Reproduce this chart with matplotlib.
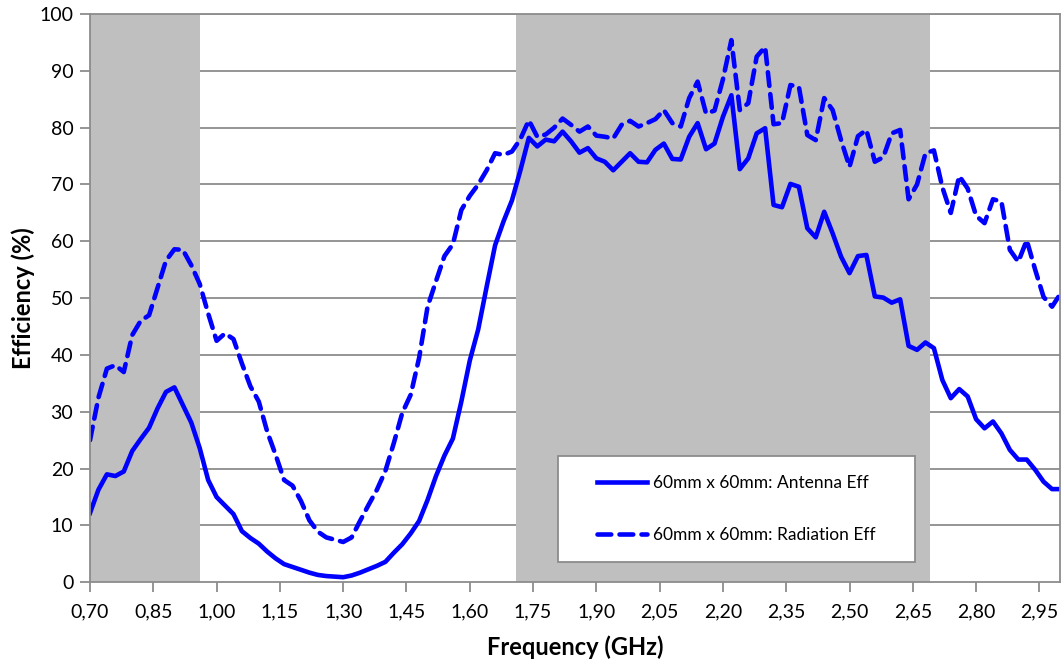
import numpy as np
import matplotlib
matplotlib.use("Agg")
import matplotlib.pyplot as plt
from matplotlib.patches import Rectangle
from matplotlib.ticker import FixedLocator, FuncFormatter

plt.rcParams['font.family'] = ['Lato', 'DejaVu Sans']

# Frequency sweep (GHz), 20 MHz steps
freq = np.round(np.arange(0.70, 3.0001, 0.02), 2)

antenna_eff = [
    12.2, 16.3, 19.0, 18.7, 19.5, 23.1, 25.2, 27.2, 30.6, 33.5,
    34.3, 31.2, 28.1, 23.6, 18.0, 15.0, 13.5, 12.0, 9.0, 7.8,
    6.8, 5.4, 4.2, 3.2, 2.7, 2.2, 1.7, 1.3, 1.1, 1.0,
    0.9, 1.2, 1.7, 2.3, 2.9, 3.6, 5.2, 6.7, 8.6, 10.8,
    14.5, 18.7, 22.3, 25.3, 31.8, 39.0, 44.5, 52.0, 59.3, 63.5,
    67.2, 72.5, 78.2, 76.7, 77.9, 77.6, 79.3, 77.6, 75.6, 76.4,
    74.6, 74.0, 72.5, 74.0, 75.5, 74.0, 73.9, 76.1, 77.2, 74.5,
    74.4, 78.4, 80.8, 76.2, 77.2, 81.9, 85.7, 72.7, 74.6, 79.0,
    79.9, 66.4, 66.0, 70.1, 69.6, 62.3, 60.7, 65.2, 61.4, 57.3,
    54.4, 57.4, 57.6, 50.3, 50.1, 49.2, 49.8, 41.6, 40.9, 42.2,
    41.2, 35.6, 32.4, 34.0, 32.7, 28.7, 27.1, 28.3, 26.2, 23.3,
    21.6, 21.6, 19.8, 17.7, 16.4, 16.4,
]

radiation_eff = [
    25.0, 32.5, 37.6, 38.2, 37.0, 43.5, 46.0, 47.0, 51.8, 56.6,
    58.6, 58.5, 55.8, 52.5, 47.3, 42.5, 43.8, 42.8, 38.5, 34.5,
    31.8, 26.5, 22.4, 18.0, 17.0, 14.3, 10.9, 8.9, 7.9, 7.5,
    7.1, 7.9, 10.8, 13.6, 16.3, 19.6, 24.5, 29.8, 33.0, 39.5,
    48.5, 53.0, 57.4, 59.5, 65.5, 68.0, 70.0, 72.5, 75.5, 75.2,
    75.8, 78.0, 81.3, 78.4, 78.8, 80.0, 81.6, 80.5, 79.3, 80.2,
    78.6, 78.4, 78.1, 80.5, 81.2, 80.2, 80.8, 81.5, 83.1, 80.8,
    80.2, 85.2, 88.1, 82.5, 83.0, 88.5, 95.4, 83.1, 84.3, 92.5,
    94.2, 80.6, 80.8, 87.5, 87.2, 78.7, 77.8, 85.2, 83.1, 77.8,
    73.1, 78.5, 79.6, 74.0, 74.8, 79.0, 79.6, 67.4, 70.0, 75.5,
    76.0, 69.5, 65.0, 71.5, 69.3, 64.5, 63.2, 67.4, 67.0, 58.5,
    56.4, 60.2, 55.0, 50.2, 48.5, 50.8,
]

# Shaded operating bands (GHz)
bands = [(0.698, 0.96), (1.71, 2.69)]

x_ticks = [0.70, 0.85, 1.00, 1.15, 1.30, 1.45, 1.60, 1.75, 1.90,
           2.05, 2.20, 2.35, 2.50, 2.65, 2.80, 2.95]
y_ticks = [0, 10, 20, 30, 40, 50, 60, 70, 80, 90, 100]

labels = ["60mm x 60mm: Antenna Eff", "60mm x 60mm: Radiation Eff"]

axis_gray = "#8c8c8c"
line_blue = "#0000ff"

fig = plt.figure(figsize=(10.64, 6.63), dpi=100)
ax = fig.add_axes([0.0846, 0.1217, 0.9121, 0.8572])

ax.set_xlim(0.70, 3.00)
ax.set_ylim(0, 100)

# horizontal grid
for y in y_ticks[1:]:
    ax.axhline(y, color=axis_gray, lw=1.3, zorder=0)

for lo, hi in bands:
    ax.axvspan(lo, hi, color="#bfbfbf", lw=0, zorder=1)

ax.plot(freq, antenna_eff, color=line_blue, lw=3.3, solid_joinstyle='round',
        zorder=3, label=labels[0])
ax.plot(freq, radiation_eff, color=line_blue, lw=3.3, linestyle=(0, (3.0, 1.8)),
        dash_capstyle='round', zorder=3, label=labels[1])

for side in ["left", "bottom", "right", "top"]:
    ax.spines[side].set_color(axis_gray)
    ax.spines[side].set_linewidth(1.3)
    ax.spines[side].set_zorder(4)

ax.xaxis.set_major_locator(FixedLocator(x_ticks))
ax.xaxis.set_major_formatter(FuncFormatter(lambda v, p: f"{v:.2f}".replace(".", ",")))
ax.yaxis.set_major_locator(FixedLocator(y_ticks))
ax.tick_params(axis='both', direction='out', length=7, width=1.3, color=axis_gray,
               labelsize=14, labelcolor="black")
ax.tick_params(axis='x', pad=8)
ax.tick_params(axis='y', pad=5)
ax.tick_params(right=False, top=False)

ax.set_xlabel("Frequency (GHz)", fontsize=17, fontweight='bold', labelpad=11)
ax.set_ylabel("Efficiency (%)", fontsize=17, fontweight='bold', labelpad=3)

# legend frame
frame = Rectangle((0.4825, 0.0362), 0.850 - 0.4825, 0.2222 - 0.0362,
                  transform=ax.transAxes, facecolor="white", edgecolor=axis_gray,
                  lw=1.3, zorder=5)
ax.add_patch(frame)

leg = ax.legend(loc='center', bbox_to_anchor=(0.666, 0.129), fontsize=12.5,
                handlelength=2.9, handletextpad=0.35, labelspacing=2.1,
                borderpad=0.5, borderaxespad=0, frameon=False)
leg.set_zorder(6)

fig.savefig("out.png", dpi=100)
